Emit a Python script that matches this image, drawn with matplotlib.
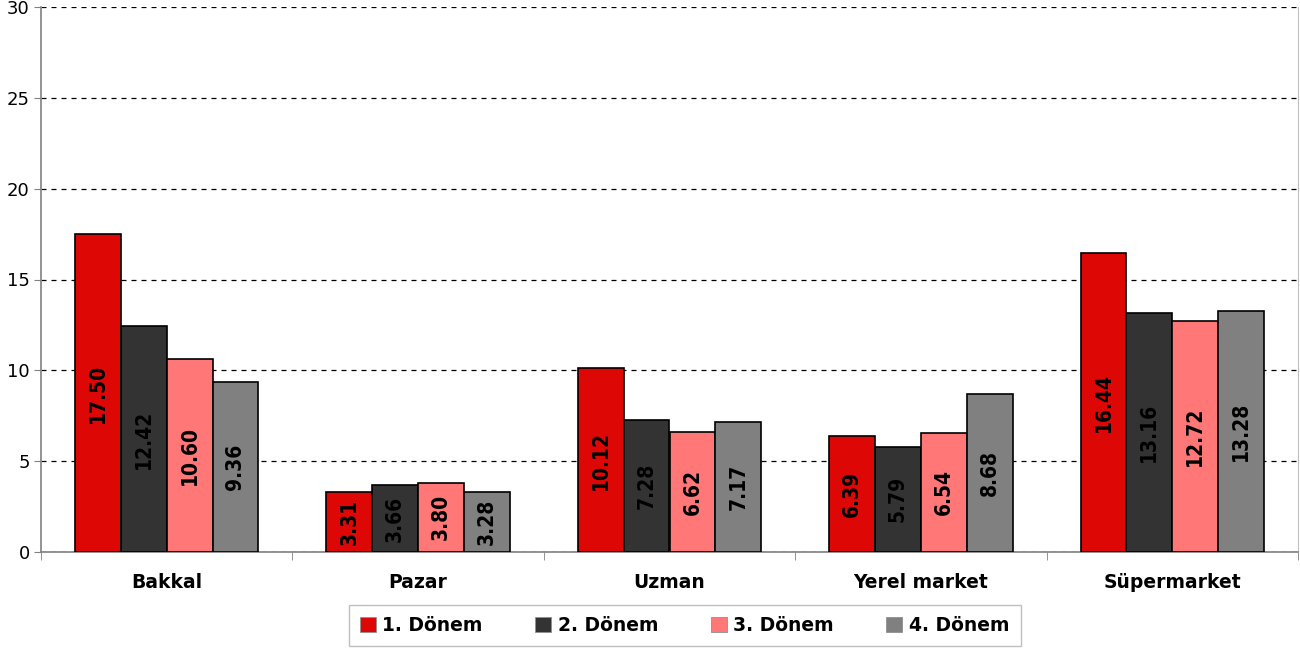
import numpy as np
import matplotlib
matplotlib.use("Agg")
import matplotlib.pyplot as plt

categories = ["Bakkal", "Pazar", "Uzman", "Yerel market", "Süpermarket"]
series_names = ["1. Dönem", "2. Dönem", "3. Dönem", "4. Dönem"]
donem1 = [17.50, 3.31, 10.12, 6.39, 16.44]
donem2 = [12.42, 3.66, 7.28, 5.79, 13.16]
donem3 = [10.60, 3.80, 6.62, 6.54, 12.72]
donem4 = [9.36, 3.28, 7.17, 8.68, 13.28]
colors = ["#DD0806", "#333333", "#FF7777", "#808080"]

plt.rcParams['font.family'] = ['DejaVu Sans']

fig = plt.figure(figsize=(13, 6.5), dpi=100)
ax = fig.add_axes([0.0315, 0.151, 0.967, 0.838])

x = np.arange(len(categories))
w = 0.1825
all_series = [donem1, donem2, donem3, donem4]
for i, vals in enumerate(all_series):
    pos = x + (i - 1.5) * w
    bars = ax.bar(pos, vals, width=w, color=colors[i], edgecolor='black',
                  linewidth=1.2, label=series_names[i], zorder=3)
    for b, v in zip(bars, vals):
        ax.text(b.get_x() + b.get_width() / 2, v / 2, "%.2f" % v,
                rotation=90, ha='center', va='center', fontsize=15,
                fontweight='bold', fontstretch='condensed', color='black', zorder=4)

ax.set_xlim(-0.5, len(categories) - 0.5)
ax.set_ylim(0, 30)
ax.set_yticks([0, 5, 10, 15, 20, 25, 30])
ax.tick_params(axis='y', labelsize=13, length=5, color='#808080', pad=3)
ax.yaxis.grid(True, linestyle=(0, (4, 4)), color='black', linewidth=0.9, zorder=0)

ax.set_xticks(x)
ax.set_xticklabels(categories, fontsize=13.5, fontweight='bold')
ax.set_xticks(np.arange(len(categories) + 1) - 0.5, minor=True)
ax.tick_params(axis='x', which='major', length=0, pad=15)
ax.tick_params(axis='x', which='minor', length=6, color='#808080')

for s in ['left', 'bottom']:
    ax.spines[s].set_color('#808080')
    ax.spines[s].set_linewidth(1.2)
ax.spines['top'].set_visible(False)
ax.spines['right'].set_color('#C0C0C0')

leg = ax.legend(loc='upper center', bbox_to_anchor=(0.512, -0.097), ncol=4,
                frameon=True, fancybox=False, prop={'weight': 'bold', 'size': 13.5},
                handlelength=0.85, handleheight=0.85, handletextpad=0.35,
                columnspacing=2.8, borderpad=0.6, borderaxespad=0)
leg.get_frame().set_edgecolor('#B0B0B0')
leg.get_frame().set_linewidth(1.0)
for h in leg.legend_handles:
    h.set_edgecolor('#909090')
    h.set_linewidth(0.6)

fig.savefig("out.png", dpi=100)
